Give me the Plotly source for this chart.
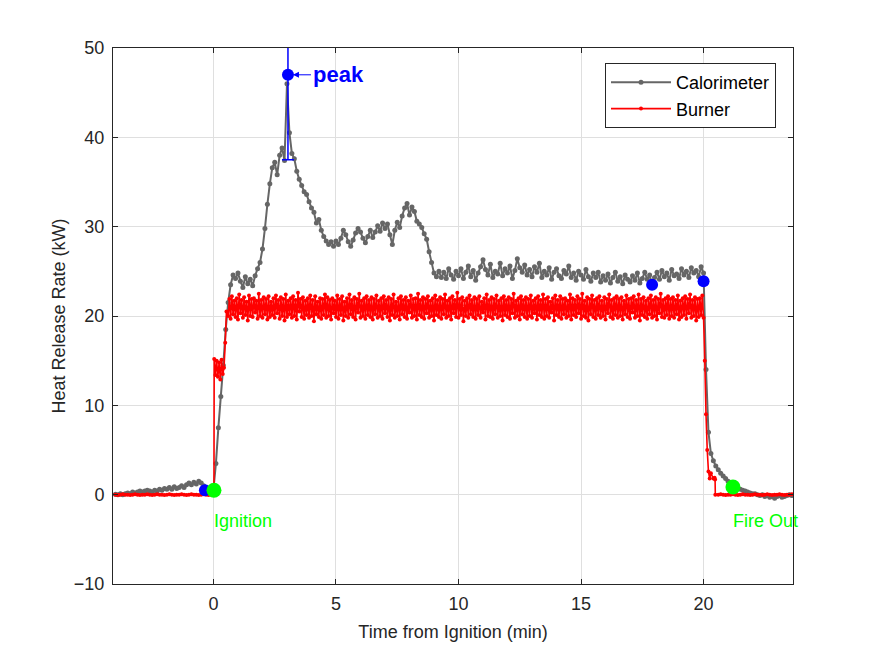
import numpy as np
import plotly.graph_objects as go

# ---------------- data ----------------
DT = 0.1
# Calorimeter segments (start time, values at 0.1 min spacing)
cal_pre_t0 = -4.2
cal_pre = [0.0, 0.0, 0.05, 0.0, 0.1, 0.0, 0.1, 0.2, 0.1, 0.3,
           0.2, 0.3, 0.4, 0.3, 0.4, 0.5, 0.4, 0.3, 0.5, 0.4,
           0.6, 0.5, 0.7, 0.6, 0.8, 0.6, 0.9, 0.7, 0.8, 1.0,
           0.8, 1.1, 1.3, 1.1, 1.4, 1.2, 1.5, 1.3, 1.0, 0.6,
           0.5, 0.5]
cal_fire_t0 = 0.0
cal_fire = [0.6, 3.5, 7.5, 11.0, 14.5, 18.5, 21.5, 23.5, 24.6, 24.2,
            24.8, 23.9, 23.2, 24.4, 23.6, 24.1, 23.4, 24.5, 25.3, 26.0,
            27.5, 29.8, 32.5, 34.8, 36.6, 37.2, 35.8, 38.0, 38.8, 37.4,
            46.0, 40.5, 38.2, 37.6, 36.2, 35.3, 34.6, 33.9, 33.6, 32.8,
            32.1, 31.6, 30.4, 30.8, 29.6, 28.9, 28.4, 28.0, 28.3, 27.8,
            28.4, 28.0, 28.7, 29.6, 29.1, 28.3, 27.8, 28.5, 29.3, 29.8,
            29.4, 28.7, 28.2, 28.9, 29.6, 28.8, 29.4, 30.1, 29.5, 30.4,
            29.8, 30.3, 29.1, 28.0, 29.6, 30.5, 29.9, 31.2, 32.1, 32.6,
            31.3, 32.2, 31.7, 30.6, 30.3, 29.9, 29.2, 28.6, 27.2, 26.0,
            24.8, 24.4, 25.0, 24.3, 24.9, 24.2, 25.3, 24.6, 24.1, 25.0]
cal_steady_t0 = 10.0
cal_steady = [24.5, 25.3, 24.2, 24.9, 25.6, 24.4, 25.1, 24.0, 24.8, 25.5,
              26.3, 25.2, 24.6, 25.8, 24.3, 25.0, 24.7, 25.9, 24.5, 25.3,
              24.8, 25.6, 24.2, 25.1, 26.4, 25.4, 24.9, 25.7, 24.6, 25.2,
              24.4, 25.5, 24.9, 25.9, 24.3, 25.0, 24.6, 25.4, 24.1, 24.9,
              25.3, 24.5, 24.2, 25.1, 24.7, 25.6, 24.3, 24.8, 24.0, 25.0,
              24.6, 24.1, 25.2, 24.4, 23.9, 24.8, 24.3, 24.9, 23.8, 24.5,
              24.0, 24.7, 23.7, 24.3, 24.9, 23.9, 24.4, 23.6, 24.6, 24.1,
              23.8, 24.5, 24.0, 24.8, 23.7, 24.2, 24.9, 24.1, 24.6, 23.5,
              24.3, 24.9, 24.1, 25.1, 24.4, 24.8, 24.0, 25.2, 24.5, 24.7,
              24.2, 25.3, 24.6, 25.0, 24.3, 25.4, 24.8, 25.1, 24.4, 25.5]
cal_decay_t0 = 20.0
cal_decay = [24.8, 14.0, 7.0, 4.6, 3.8, 3.2, 2.8, 2.4, 2.1, 1.8,
             1.5, 1.3, 1.0, 0.9, 0.7, 0.6, 0.5, 0.4, 0.3, 0.2,
             0.1, 0.1, 0.0, -0.1, 0.0, -0.2, -0.1, -0.3, -0.2, -0.4,
             -0.2, -0.1, -0.3, -0.2, -0.1, 0.0, -0.1, 0.0]

# Burner segments
bur_pre_t0 = -4.2
bur_pre = [0.0, 0.05, 0.0, -0.05, 0.0, 0.05, 0.0, 0.0, -0.05, 0.0,
           0.05, 0.0, -0.05, 0.0, 0.0, 0.05, 0.0, -0.05, 0.0, 0.05,
           0.0, 0.0, -0.05, 0.0, 0.05, 0.0, -0.05, 0.0, 0.0, 0.05,
           0.0, -0.05, 0.0, 0.05, 0.0, 0.0, -0.05, 0.0, 0.05, 0.0,
           -0.05, 0.0, 0.0]
bur_step_t = [0.02, 0.03, 0.08, 0.13, 0.18, 0.23, 0.28, 0.33, 0.38, 0.43, 0.48, 0.53]
bur_step = [0.0, 15.2, 13.4, 15.0, 13.2, 14.8, 12.9, 15.1, 13.5, 14.2, 17.0, 20.5]
bur_lo_t0 = 0.6      # low swings at 0.6, 0.7, ... 20.0
bur_lo = [
    20.0, 19.7, 20.2, 19.9, 19.6, 20.3, 19.8, 20.1, 19.5, 20.0, 19.9, 20.4, 19.7, 20.0, 19.8, 20.2, 19.6, 19.9, 20.1, 19.8,
    20.3, 19.7, 20.0, 19.5, 19.9, 20.2, 19.8, 20.0, 19.6, 20.5, 19.9, 19.7, 20.1, 19.8, 20.0, 19.4, 20.2, 19.9, 19.7, 20.1,
    19.8, 20.0, 19.6, 20.3, 19.9, 19.7, 20.1, 19.5, 20.0, 19.8, 20.2, 19.9, 19.6, 20.4, 19.8, 20.0, 19.7, 20.1, 19.9, 19.6,
    20.2, 19.8, 20.0, 19.7, 20.3, 19.9, 19.5, 20.1, 19.8, 20.0, 19.6, 20.2, 19.9, 19.7, 20.4, 19.8, 20.0, 19.6, 20.1, 19.9,
    19.7, 20.3, 19.8, 20.0, 19.5, 20.1, 19.9, 19.7, 20.2, 19.8, 20.0, 19.6, 20.3, 19.9, 19.8, 20.1, 19.4, 20.0, 19.8, 20.2,
    19.9, 19.7, 20.1, 19.8, 20.4, 19.6, 20.0, 19.9, 19.7, 20.2, 19.8, 20.0, 19.5, 20.1, 19.9, 19.7, 20.3, 19.8, 20.0, 19.6,
    20.2, 19.9, 19.7, 20.0, 19.8, 20.3, 19.6, 20.1, 19.9, 19.7, 20.0, 19.8, 20.4, 19.5, 20.1, 19.9, 19.7, 20.2, 19.8, 20.0,
    19.6, 20.1, 19.9, 20.3, 19.7, 20.0, 19.8, 19.5, 20.2, 19.9, 19.7, 20.1, 19.8, 20.0, 19.6, 20.3, 19.9, 19.7, 20.1, 19.8,
    20.0, 19.6, 20.2, 19.9, 19.7, 20.4, 19.8, 20.0, 19.5, 20.1, 19.9, 19.7, 20.2, 19.8, 20.0, 19.6, 20.3, 19.9, 19.8, 20.1,
    19.7, 20.0, 19.8, 20.2, 19.6, 19.9, 20.1, 19.7, 20.3, 19.8, 20.0, 19.5, 19.9, 20.1, 19.8]
bur_hi_t0 = 0.65     # high swings at 0.65, 0.75, ... 19.95
bur_hi = [
    21.9, 22.2, 21.7, 22.0, 22.4, 21.8, 22.1, 21.6, 22.3, 21.9, 22.0, 21.7, 22.5, 21.8, 22.1, 21.9, 22.2, 21.6, 22.0, 22.3,
    21.8, 22.1, 21.9, 22.4, 21.7, 22.0, 22.2, 21.8, 22.6, 21.9, 22.1, 21.7, 22.0, 22.3, 21.8, 22.2, 21.6, 22.0, 21.9, 22.4,
    22.1, 21.8, 22.0, 21.7, 22.3, 21.9, 22.2, 21.6, 22.0, 22.4, 21.8, 22.1, 21.9, 22.5, 21.7, 22.0, 22.2, 21.8, 22.1, 21.9,
    22.3, 21.7, 22.0, 22.2, 21.8, 22.1, 21.9, 22.4, 21.6, 22.0, 22.2, 21.8, 22.1, 21.7, 22.3, 21.9, 22.0, 22.5, 21.8, 22.1,
    21.9, 22.2, 21.7, 22.0, 22.3, 21.8, 22.1, 21.9, 22.4, 21.7, 22.0, 22.2, 21.8, 22.6, 21.9, 22.1, 21.7, 22.0, 22.3, 21.8,
    22.1, 21.9, 22.2, 21.6, 22.0, 22.4, 21.8, 22.1, 21.9, 22.3, 21.7, 22.0, 22.2, 21.8, 22.1, 21.9, 22.5, 21.7, 22.0, 22.2,
    21.8, 22.1, 21.9, 22.3, 21.7, 22.0, 22.2, 21.8, 22.4, 21.9, 22.1, 21.6, 22.0, 22.3, 21.8, 22.2, 21.9, 22.0, 21.7, 22.4,
    22.0, 21.8, 22.2, 21.9, 22.5, 21.7, 22.1, 21.9, 22.3, 21.8, 22.0, 22.2, 21.7, 22.1, 21.9, 22.4, 21.8, 22.0, 22.2, 21.9,
    22.1, 21.7, 22.3, 21.9, 22.0, 22.2, 21.8, 22.4, 21.9, 22.1, 21.7, 22.0, 22.3, 21.8, 22.1, 21.9, 22.5, 21.8, 22.0, 22.2,
    21.9, 22.1, 21.8, 22.3, 21.7, 22.0, 22.2, 21.9, 22.4, 21.8, 22.1, 21.9, 22.0, 22.3]
bur_drop_t = [20.05, 20.1, 20.15, 20.2, 20.25, 20.3, 20.4, 20.45, 20.47, 20.48]
bur_drop = [15.0, 9.0, 5.0, 2.6, 1.8, 2.4, 1.8, 1.9, 1.7, 0.0]
bur_post_t0 = 20.6
bur_post = [0.0, 0.05, 0.0, -0.05, 0.0, 0.0, 0.05, 0.0, -0.05, 0.0,
            0.05, 0.0, 0.0, -0.05, 0.0, 0.05, 0.0, 0.0, -0.05, 0.0,
            0.05, 0.0, -0.05, 0.0, 0.0, 0.05, 0.0, -0.05, 0.0, 0.0,
            0.05, 0.0]

# event markers
blue_t = [-0.35, 17.9, 20.0]
blue_v = [0.5, 23.5, 23.9]
green_t = [0.02, 21.2]
green_v = [0.5, 0.85]
green_labels = ["Ignition", "Fire Out"]
label_v = [-3.1, -3.1]
peak_t = [3.04]
peak_v = [47.0]
peak_lo = [37.5]
peak_hi = [56.0]

x_ticks = [0, 5, 10, 15, 20]
y_ticks = [-10, 0, 10, 20, 30, 40, 50]


def seg(t0, vals):
    return list(t0 + DT * np.arange(len(vals)))


cal_t = seg(cal_pre_t0, cal_pre) + seg(cal_fire_t0, cal_fire) + \
    seg(cal_steady_t0, cal_steady) + seg(cal_decay_t0, cal_decay)
cal_v = cal_pre + cal_fire + cal_steady + cal_decay

plat_t = seg(bur_lo_t0, bur_lo) + seg(bur_hi_t0, bur_hi)
plat_v = bur_lo + bur_hi
order = np.argsort(plat_t, kind="stable")
plat_t = [plat_t[i] for i in order]
plat_v = [plat_v[i] for i in order]

bur_t = seg(bur_pre_t0, bur_pre) + bur_step_t + plat_t + bur_drop_t + seg(bur_post_t0, bur_post)
bur_v = bur_pre + bur_step + plat_v + bur_drop + bur_post

GRAY = "rgb(102,102,102)"
AX = "rgb(38,38,38)"
GREEN = "rgb(0,255,0)"
FONT = "Liberation Sans, Arial, sans-serif"

fig = go.Figure()
fig.add_trace(go.Scatter(x=cal_t, y=cal_v, mode="lines+markers", name="Calorimeter",
                         line=dict(color=GRAY, width=2, simplify=False),
                         marker=dict(color=GRAY, size=5)))
fig.add_trace(go.Scatter(x=bur_t, y=bur_v, mode="lines+markers", name="Burner",
                         line=dict(color="red", width=1.6, simplify=False),
                         marker=dict(color="red", size=4)))
fig.add_trace(go.Scatter(x=blue_t, y=blue_v, mode="markers", showlegend=False,
                         marker=dict(color="blue", size=12)))
fig.add_trace(go.Scatter(x=green_t, y=green_v, mode="markers", showlegend=False,
                         marker=dict(color=GREEN, size=15)))
fig.add_trace(go.Scatter(x=green_t, y=label_v, mode="text", text=green_labels,
                         textposition="middle right", showlegend=False, cliponaxis=False,
                         textfont=dict(color=GREEN, size=18, family=FONT)))
fig.add_trace(go.Scatter(x=peak_t, y=peak_v, mode="markers", showlegend=False,
                         marker=dict(color="blue", size=12),
                         error_y=dict(type="data", symmetric=False,
                                      array=[h - v for h, v in zip(peak_hi, peak_v)],
                                      arrayminus=[v - l for l, v in zip(peak_lo, peak_v)],
                                      color="blue", thickness=1.5, width=6)))

fig.add_annotation(x=peak_t[0], y=peak_v[0], text="<b>peak</b>", showarrow=True,
                   ax=23, ay=0, xanchor="left", arrowhead=2, arrowsize=1.2,
                   arrowwidth=1, arrowcolor="blue", standoff=5,
                   font=dict(color="blue", size=22, family=FONT))

axis_common = dict(showline=True, linecolor=AX, linewidth=1, mirror="ticks",
                   ticks="inside", ticklen=5, tickcolor=AX, showgrid=True,
                   gridcolor="rgb(223,223,223)", gridwidth=1, zeroline=False,
                   tickfont=dict(size=18, color=AX, family=FONT))
fig.update_xaxes(range=[-4.1, 23.65], tickvals=x_ticks, ticklabelstandoff=3,
                 title=dict(text="Time from Ignition (min)", font=dict(size=18, color=AX, family=FONT), standoff=12),
                 **axis_common)
fig.update_yaxes(range=[-10, 50], tickvals=y_ticks, ticklabelstandoff=4,
                 title=dict(text="Heat Release Rate (kW)", font=dict(size=18, color=AX, family=FONT), standoff=3),
                 **axis_common)

fig.update_layout(width=875, height=656, margin=dict(l=113, r=82, t=48, b=72),
                  paper_bgcolor="white", plot_bgcolor="white",
                  font=dict(family=FONT, color=AX),
                  legend=dict(x=0.975, y=0.972, xanchor="right", yanchor="top",
                              bgcolor="white", bordercolor=AX, borderwidth=1,
                              itemwidth=60,
                              font=dict(size=18, color="black", family=FONT),
                              tracegroupgap=0))

fig.write_html("out.html")
